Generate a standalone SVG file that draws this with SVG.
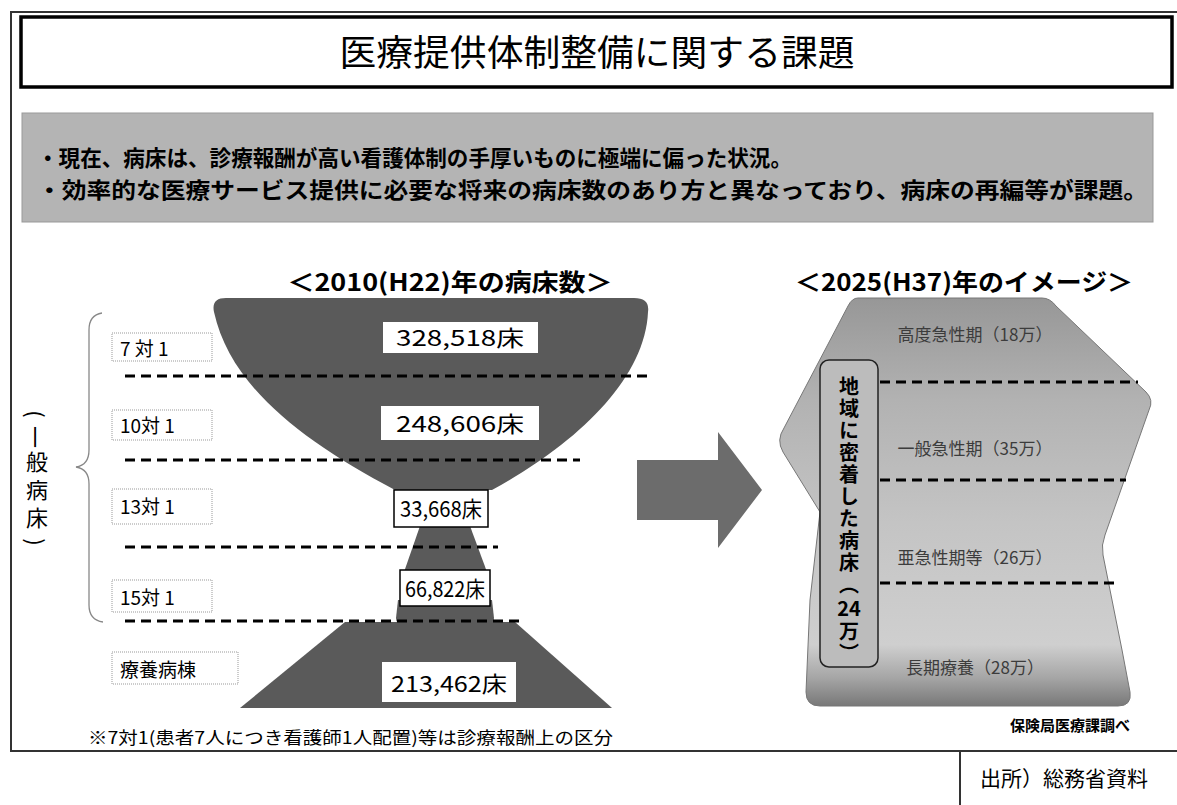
<svg xmlns="http://www.w3.org/2000/svg" width="1177" height="805" viewBox="0 0 1177 805">
<defs>
<style>
text { font-family: "Noto Sans CJK JP", "Liberation Sans", sans-serif; fill:#000; }
.frame { stroke:#333; stroke-width:2; fill:none; }
.dash { stroke:#000; stroke-width:3; stroke-dasharray:10 6; fill:none; }
.lbl { fill:#fff; stroke:#999; stroke-width:1; stroke-dasharray:1 1; }
.lbltxt { font-size:19px; }
.num { font-size:22px; text-anchor:middle; }
.numbox { fill:#fff; }
.numboxb { fill:#fff; stroke:#000; stroke-width:1.5; }
.dark { fill:#5a5a5a; }
.rlabel { font-size:17px; fill:#3c3c3c; text-anchor:middle; }
.vcol { font-size:20px; font-weight:bold; writing-mode:vertical-rl; letter-spacing:2px; }
.vleft { font-size:22px; writing-mode:vertical-rl; letter-spacing:6px; }
.vl { font-size:22px; text-anchor:middle; dominant-baseline:central; }
.head { font-size:24px; font-weight:bold; text-anchor:middle; }
.ban { font-size:22px; font-weight:bold; }
</style>
<linearGradient id="rg" gradientUnits="userSpaceOnUse" x1="0" y1="298" x2="0" y2="706">
<stop offset="0" stop-color="#979797"/>
<stop offset="0.25" stop-color="#b2b2b2"/>
<stop offset="0.55" stop-color="#c4c4c4"/>
<stop offset="0.85" stop-color="#cfcfcf"/>
<stop offset="0.93" stop-color="#a6a6a6"/>
<stop offset="1" stop-color="#787878"/>
</linearGradient>
</defs>

<g id="frame">
<line class="frame" x1="10" y1="12" x2="1177" y2="12"/>
<line class="frame" x1="11" y1="12" x2="11" y2="752"/>
<line class="frame" x1="10" y1="751" x2="1177" y2="751"/>
<line class="frame" x1="960" y1="751" x2="960" y2="805" stroke-width="1.5"/>
</g>

<g id="title">
<rect x="21" y="17" width="1151" height="70" fill="#fff" stroke="#000" stroke-width="3.5"/>
<text x="597" y="66" font-size="36" text-anchor="middle" textLength="515" lengthAdjust="spacingAndGlyphs">医療提供体制整備に関する課題</text>
</g>

<g id="banner">
<rect x="22" y="113" width="1131" height="109" fill="#b4b4b4" stroke="#999" stroke-width="1"/>
<text class="ban" x="37" y="166" textLength="755" lengthAdjust="spacingAndGlyphs">・現在、病床は、診療報酬が高い看護体制の手厚いものに極端に偏った状況。</text>
<text class="ban" x="37" y="198" textLength="1111" lengthAdjust="spacingAndGlyphs">・効率的な医療サービス提供に必要な将来の病床数のあり方と異なっており、病床の再編等が課題。</text>
</g>

<g id="headings">
<text class="head" x="450" y="291" textLength="325" lengthAdjust="spacingAndGlyphs">＜2010(H22)年の病床数＞</text>
<text class="head" x="964" y="291" textLength="338" lengthAdjust="spacingAndGlyphs">＜2025(H37)年のイメージ＞</text>
</g>

<g id="left-chart">
<path class="dark" d="M 395,490 C 300,440 230,385 214,312 Q 211,298 226,298 L 634,298 Q 650,298 648,312 C 645,380 575,445 492,490 Z"/>
<path class="dark" d="M 420,526 L 470,526 L 487,572 L 404,572 Z"/>
<path class="dark" d="M 398,600 L 492,600 L 494,618 Q 494,625 486,625 L 404,625 Q 396,625 396,618 Z"/>
<path class="dark" d="M 345,622 L 515,622 L 612,708 L 240,708 Z"/>
</g>

<g id="arrow">
<path d="M 637,460 L 718,460 L 718,432 L 762,490 L 718,548 L 718,520 L 637,520 Z" fill="#6c6c6c"/>
</g>

<g id="right-chart">
<path d="M 858,298 L 1042,298 Q 1050,298 1056,306 L 1146,392 Q 1154,400 1149,410 L 1105,535 Q 1101,545 1103,555 L 1122,650 L 1130,692 Q 1132,706 1118,706 L 820,706 Q 806,706 806,692 L 810,600 L 820,512 L 783,452 Q 776,440 784,428 L 848,306 Q 852,298 858,298 Z" fill="url(#rg)" stroke="#777" stroke-width="1"/>
<text class="rlabel" x="975" y="341">高度急性期（18万）</text>
<text class="rlabel" x="975" y="455">一般急性期（35万）</text>
<text class="rlabel" x="975" y="564">亜急性期等（26万）</text>
<text class="rlabel" x="975" y="674">長期療養（28万）</text>
</g>

<g id="connectors">
<line class="dash" x1="125" y1="376" x2="650" y2="376"/>
<line class="dash" x1="125" y1="460" x2="580" y2="460"/>
<line class="dash" x1="125" y1="547" x2="498" y2="547"/>
<line class="dash" x1="125" y1="621" x2="520" y2="621"/>
<line class="dash" x1="880" y1="382" x2="1138" y2="382"/>
<line class="dash" x1="880" y1="480" x2="1126" y2="480"/>
<line class="dash" x1="880" y1="583" x2="1118" y2="583"/>
</g>

<g id="left-labels">
<rect class="lbl" x="112" y="333" width="100" height="28"/>
<text class="lbltxt" x="120" y="356">7 対 1</text>
<rect class="lbl" x="112" y="410" width="100" height="30"/>
<text class="lbltxt" x="120" y="433">10対 1</text>
<rect class="lbl" x="112" y="489" width="100" height="35"/>
<text class="lbltxt" x="120" y="514">13対 1</text>
<rect class="lbl" x="112" y="580" width="100" height="32"/>
<text class="lbltxt" x="120" y="605">15対 1</text>
<rect class="lbl" x="112" y="652" width="126" height="32"/>
<text class="lbltxt" x="120" y="677">療養病棟</text>
</g>

<g id="left-values">
<rect class="numbox" x="383" y="322" width="155" height="31"/>
<text class="num" x="460" y="346" textLength="128" lengthAdjust="spacingAndGlyphs">328,518床</text>
<rect class="numbox" x="381" y="406" width="158" height="34"/>
<text class="num" x="460" y="432" textLength="128" lengthAdjust="spacingAndGlyphs">248,606床</text>
<rect class="numboxb" x="394" y="490" width="94" height="37"/>
<text class="num" x="441" y="517" textLength="82" lengthAdjust="spacingAndGlyphs">33,668床</text>
<rect class="numboxb" x="400" y="570" width="90" height="36"/>
<text class="num" x="445" y="597" textLength="80" lengthAdjust="spacingAndGlyphs">66,822床</text>
<rect class="numbox" x="382" y="662" width="134" height="40"/>
<text class="num" x="449" y="692" textLength="116" lengthAdjust="spacingAndGlyphs">213,462床</text>
</g>

<g id="brace">
<path d="M 102,313 Q 89,315 89,330 L 89,450 Q 89,465 76,467 Q 89,469 89,484 L 89,605 Q 89,620 103,622" fill="none" stroke="#888" stroke-width="1.3"/>
<text class="vl" x="37" y="414" transform="rotate(90 37 414)">(</text>
<text class="vl" x="37" y="437" transform="rotate(90 37 437)">一</text>
<text class="vleft" x="37" y="451">般病床</text>
<text class="vl" x="37" y="542" transform="rotate(90 37 542)">)</text>
</g>

<g id="footnote">
<text x="88" y="744" font-size="17" textLength="525" lengthAdjust="spacingAndGlyphs">※7対1(患者7人につき看護師1人配置)等は診療報酬上の区分</text>
</g>

<g id="community-beds">
<rect x="820" y="360" width="58" height="307" rx="9" fill="#bcbcbc" stroke="#222" stroke-width="1.5"/>
<text class="vcol" x="849" y="376">地域に密着した病床︵</text>
<text x="849" y="616" font-size="20" font-weight="bold" text-anchor="middle">24</text>
<text class="vcol" x="849" y="621">万︶</text>
</g>

<g id="sources">
<text x="1130" y="731" font-size="15" font-weight="bold" text-anchor="end">保険局医療課調べ</text>
<text x="980" y="786" font-size="21">出所）総務省資料</text>
</g>
</svg>
